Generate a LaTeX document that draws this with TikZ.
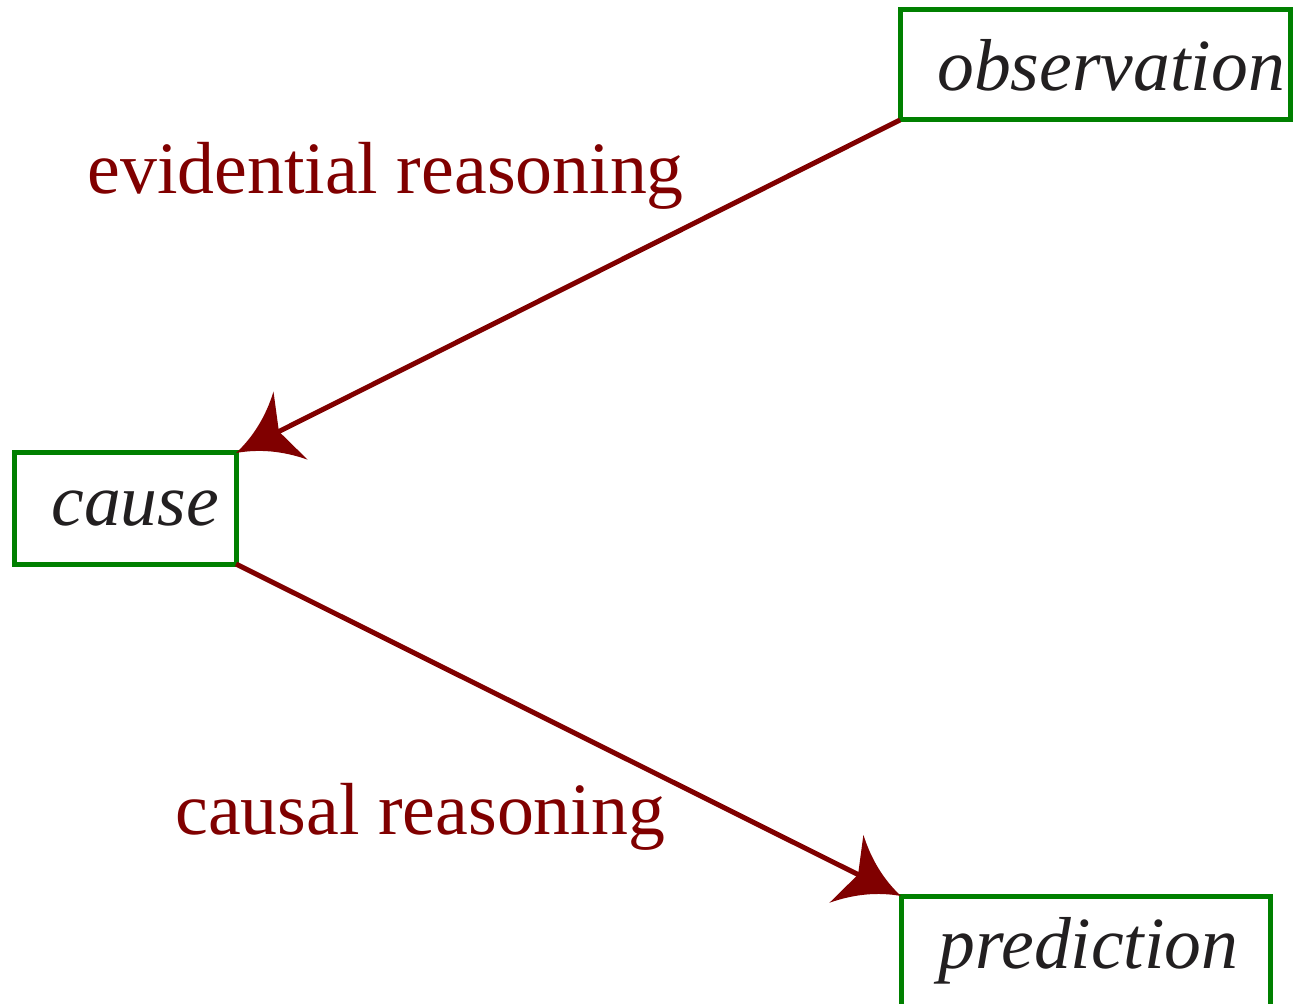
\documentclass[tikz,border=0pt]{standalone}
\usepackage{fontspec}
\setmainfont{Liberation Serif}
\usetikzlibrary{arrows.meta}
\definecolor{boxgreen}{RGB}{0,128,0}
\definecolor{arrred}{RGB}{128,0,0}
\definecolor{txtgray}{RGB}{34,31,32}
\pgfdeclarearrow{
  name = MTip,
  setup code = {
    \pgfarrowssettipend{0pt}
    \pgfarrowssetlineend{-20pt}
    \pgfarrowssetbackend{-30.5pt}
    \pgfarrowsupperhullpoint{-30.5pt}{19pt}
    \pgfarrowsupperhullpoint{0pt}{0pt}
  },
  drawing code = {
    \pgfpathmoveto{\pgfpointorigin}
    \pgfpathquadraticcurveto{\pgfpoint{-17pt}{5pt}}{\pgfpoint{-30.5pt}{19pt}}
    \pgfpathlineto{\pgfpoint{-24pt}{0pt}}
    \pgfpathlineto{\pgfpoint{-30.5pt}{-19pt}}
    \pgfpathquadraticcurveto{\pgfpoint{-17pt}{-5pt}}{\pgfpointorigin}
    \pgfpathclose
    \pgfusepathqfill
  }
}
\begin{document}
\begin{tikzpicture}[x=0.5pt,y=-0.5pt,
  box/.style={draw=boxgreen, line width=2.5pt, rectangle, inner sep=0pt, outer sep=0pt,
    font=\fontsize{36.8}{44}\selectfont\itshape, text=txtgray},
  lab/.style={text=arrred, font=\fontsize{36.9}{44}\selectfont, inner sep=0pt, anchor=base west},
  conn/.style={draw=arrred, line width=2.5pt, -{MTip}}]
\useasboundingbox (0,0) rectangle (1293,1004);
\clip (0,0) rectangle (1293,1004);
\node[box, minimum width=195pt, minimum height=55pt] (obs) at (1095,65) {\hspace*{16pt}observation};
\node[box, minimum width=110.75pt, minimum height=55.5pt] (cause) at (125.25,508.5) {\hspace*{10pt}cause};
\node[box, minimum width=184.5pt, minimum height=55pt] (pred) at (1085.5,951) {\hspace*{3pt}prediction};
\node[lab] (ev) at (87,194) {evidential reasoning};
\node[lab] (ca) at (175,834) {causal reasoning};
\draw[conn] (obs.south west) -- (cause.north east);
\draw[conn] (cause.south east) -- (pred.north west);
\end{tikzpicture}
\end{document}
